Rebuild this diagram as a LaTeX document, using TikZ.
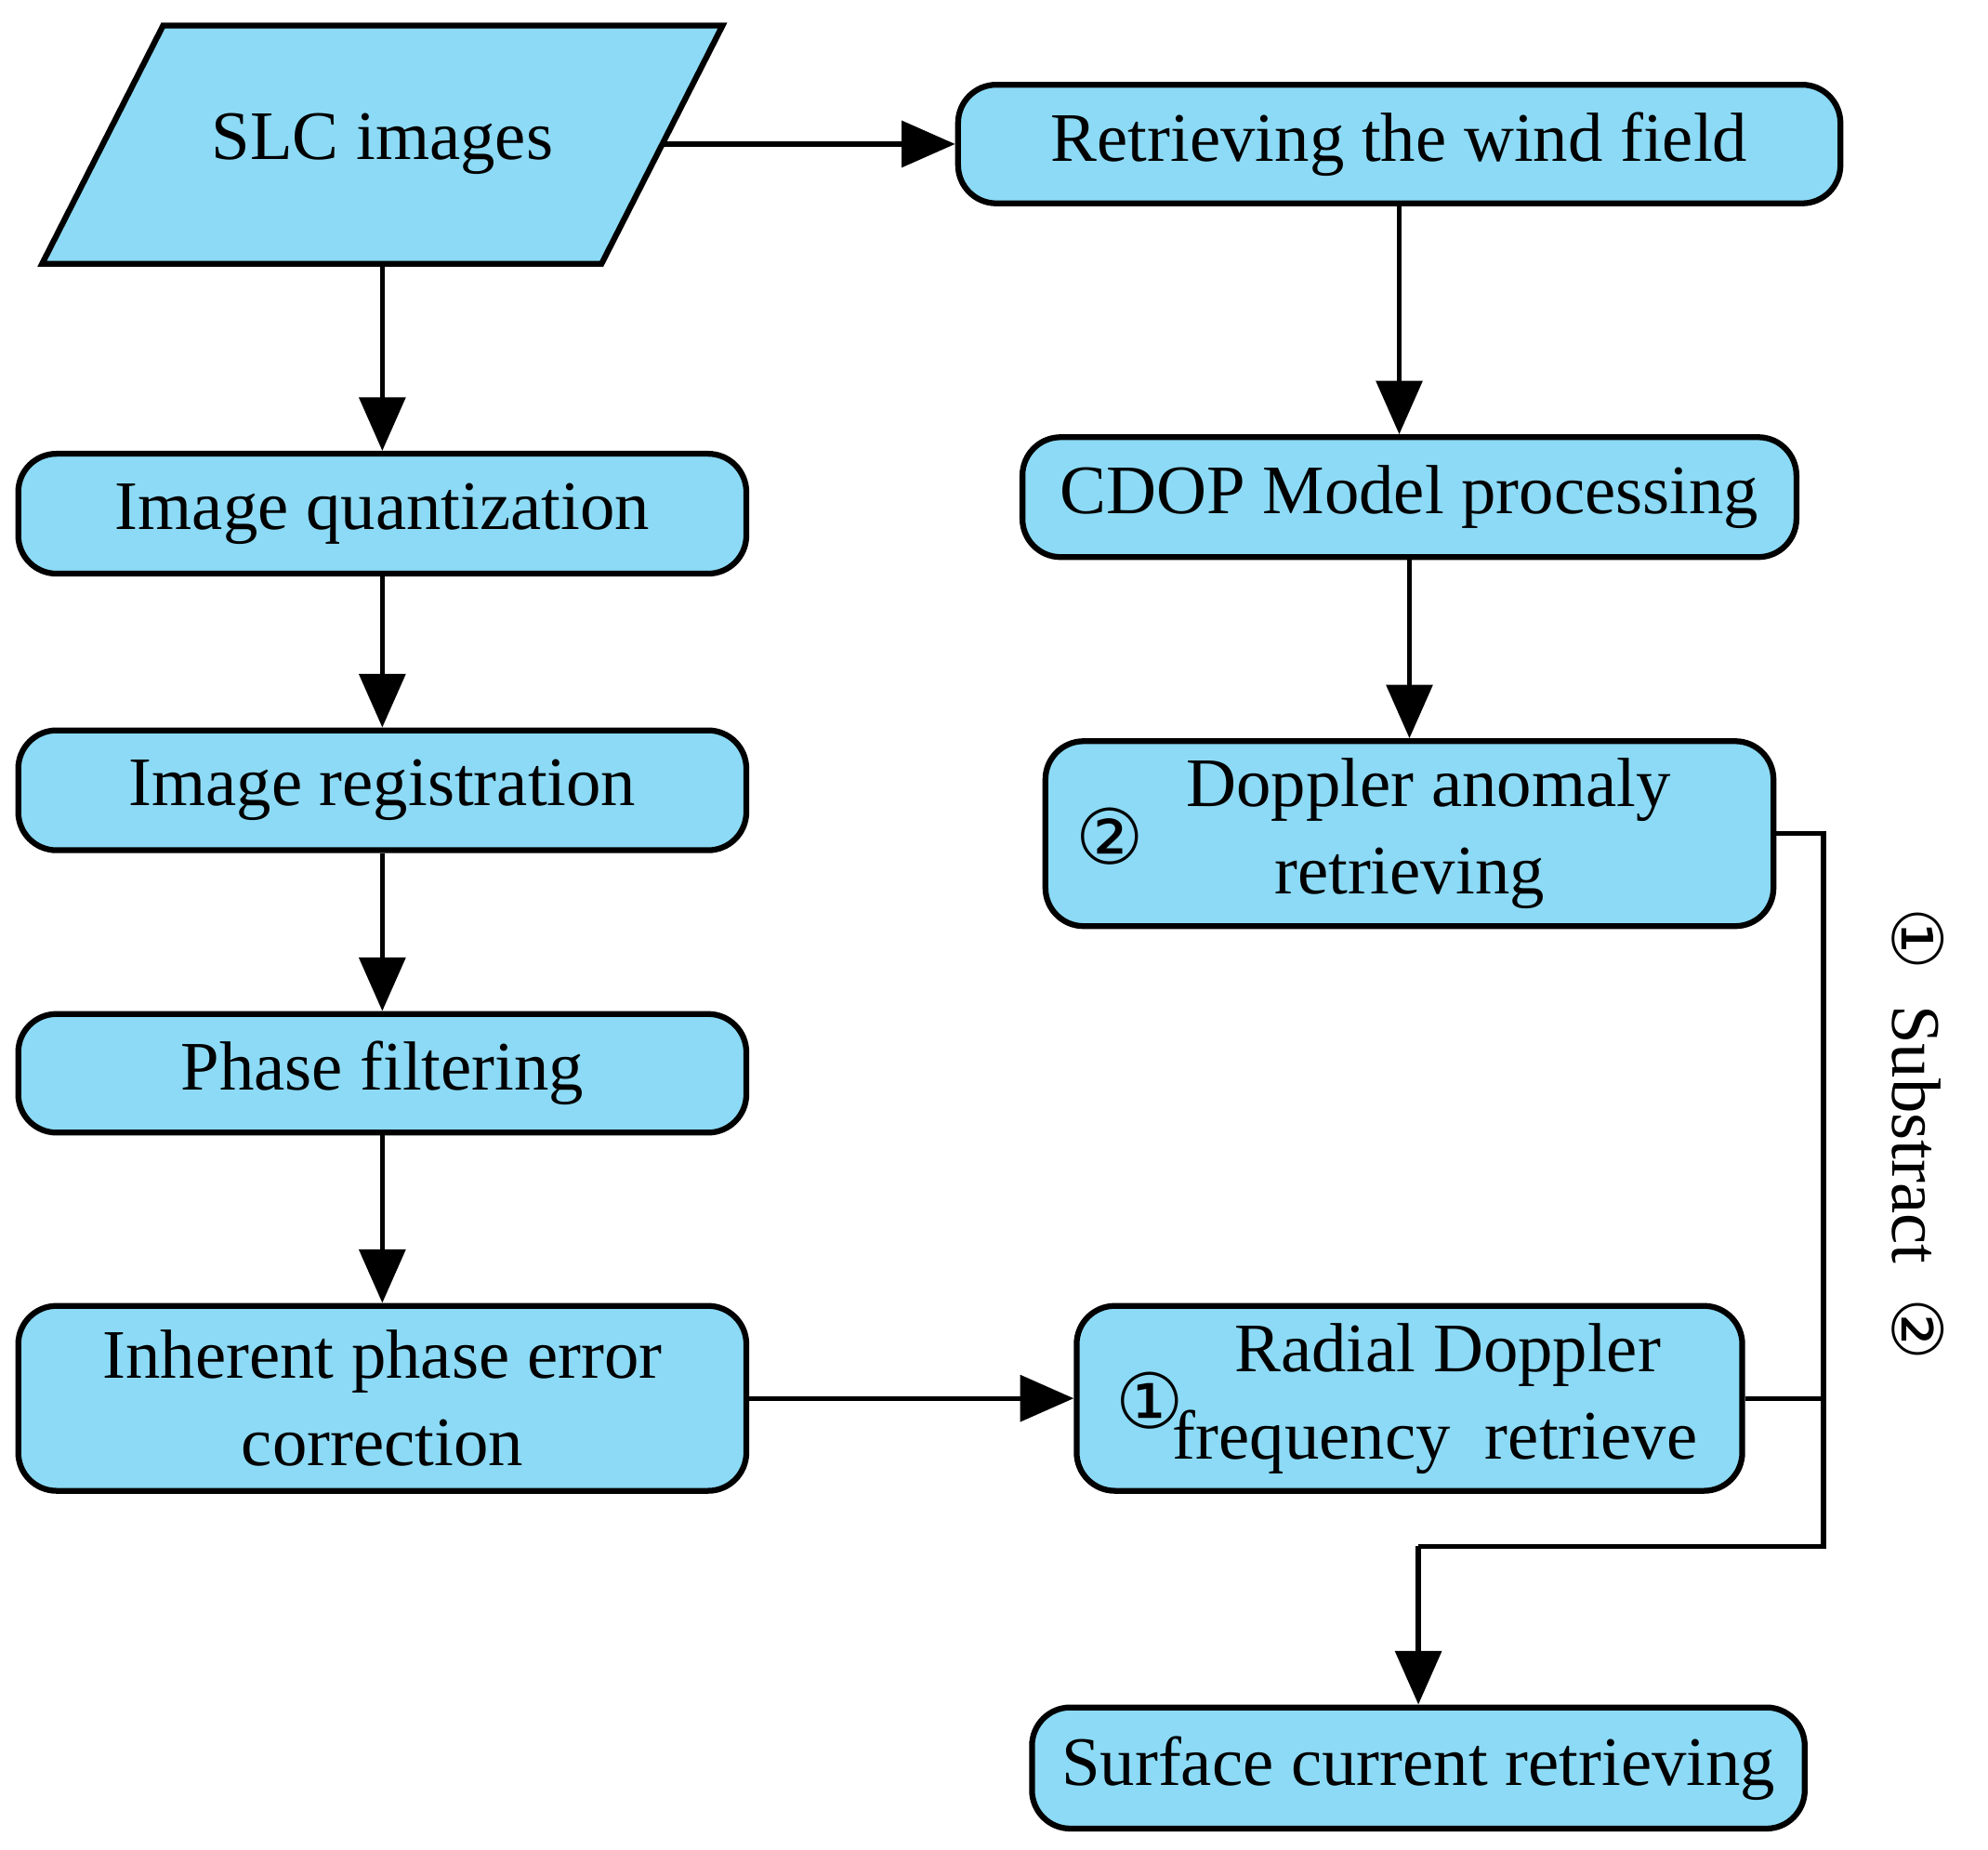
\documentclass[tikz,border=0pt]{standalone}
\usepackage{fontspec}
\setmainfont{Liberation Serif}
\newfontfamily\symf{DejaVu Sans}
\usetikzlibrary{arrows.meta}
\definecolor{boxblue}{HTML}{8CDAF5}
\begin{document}
\begin{tikzpicture}[x=0.01cm,y=-0.01cm,
 box/.style={draw,line width=1.3pt,fill=boxblue,rounded corners=0.3cm,align=center,inner sep=1pt,font=\fontsize{15.5}{19.5}\selectfont},
 arr/.style={line width=1.1pt,-{Triangle[length=0.42cm,width=0.36cm]}},
 ln/.style={line width=1.1pt}]
\useasboundingbox (0,0) rectangle (1560,1451);
\path[draw,line width=1.3pt,fill=boxblue] (33,207) -- (128,20) -- (567,20) -- (472,207) -- cycle;
\node[font=\fontsize{15.5}{19.5}\selectfont] (slc) at (300,113) {SLC images};
\coordinate (slcr) at (520,113);
\node[box,minimum width=6.92cm,minimum height=0.93cm] (wind) at (1098,113) {Retrieving the wind field};
\node[box,minimum width=5.71cm,minimum height=0.94cm] (quant) at (300,403) {Image quantization};
\node[box,minimum width=5.71cm,minimum height=0.94cm] (reg) at (300,620) {Image registration};
\node[box,minimum width=5.71cm,minimum height=0.93cm] (phase) at (300,842) {Phase filtering};
\node[box,minimum width=5.71cm,minimum height=1.45cm] (inh) at (300,1097) {Inherent phase error\\correction};
\node[box,minimum width=6.07cm,minimum height=0.94cm] (cdop) at (1106,390) {CDOP Model processing};
\node[box,minimum width=5.71cm,minimum height=1.45cm] (dop) at (1106,654) {\hspace*{0.3cm}Doppler anomaly\\retrieving};
\node[font=\symf\fontsize{17}{20}\selectfont] (c2) at (871,656) {②};
\node[box,minimum width=5.22cm,minimum height=1.45cm] (rad) at (1106,1097) {\hspace*{0.6cm}Radial Doppler\\\hspace*{0.4cm}frequency\ \ retrieve};
\node[font=\symf\fontsize{17}{20}\selectfont] (c1) at (902,1099) {①};
\node[box,minimum width=6.06cm,minimum height=0.95cm] (surf) at (1113,1387) {Surface current retrieving};
\node[rotate=-90,font=\fontsize{15.5}{19.5}\selectfont] (sub) at (1505,890) {{\symf ①}\ \ Substract\ \ {\symf ②}};
\coordinate (j1) at (1431,654);
\coordinate (j2) at (1431,1213);
\coordinate (j3) at (1113,1213);
\draw[arr] (slcr) -- (wind.west);
\draw[arr] (300,207) -- (quant.north);
\draw[arr] (quant) -- (reg);
\draw[arr] (reg) -- (phase);
\draw[arr] (phase) -- (inh);
\draw[arr] (inh) -- (rad);
\draw[arr] (wind.south) -- (wind.south |- cdop.north);
\draw[arr] (cdop) -- (cdop |- dop.north);
\draw[ln] (dop.east |- j1) -- (j1) -- (j2) -- (j3);
\draw[ln] (rad.east) -- (rad.east -| j1);
\draw[arr] (j3) -- (surf.north);
\end{tikzpicture}
\end{document}
